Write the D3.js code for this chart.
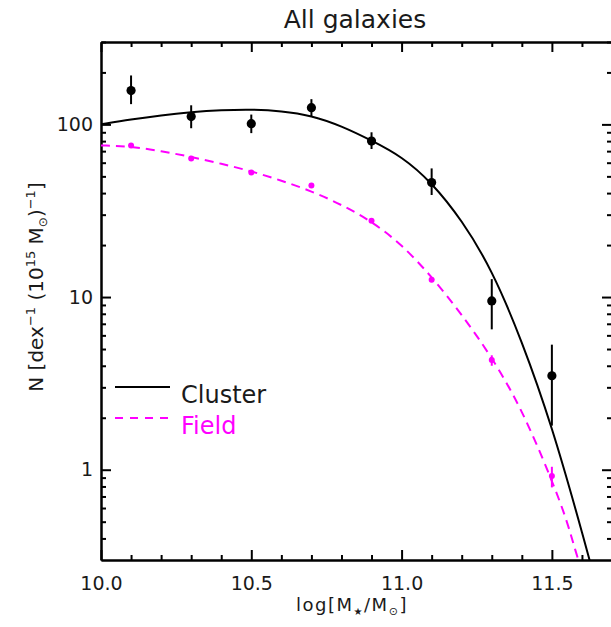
<!DOCTYPE html>
<html><head><meta charset="utf-8">
<script src="https://cdn.jsdelivr.net/npm/d3@7"></script>
<style>
body{margin:0;background:#fff}
text{font-family:"DejaVu Sans",sans-serif;}
</style>
</head><body><svg id="c" width="611" height="627"></svg>
<script>
// ---- data ----
const massBins   = [10.1, 10.3, 10.5, 10.7, 10.9, 11.1, 11.3, 11.5];
const clusterN   = [157, 111, 101, 125, 80, 46, 9.5, 3.5];
const clusterLo  = [131, 95, 89, 111, 72, 39, 6.5, 1.8];
const clusterHi  = [192, 129, 114, 140, 90, 55.6, 12.7, 5.3];
const fieldN     = [75.5, 63.5, 52.7, 44.3, 27.7, 12.6, 4.32, 0.92];
const fieldLo    = [75, 63, 52.3, 44, 27.2, 12.2, 4.0, 0.79];
const fieldHi    = [76, 64, 53.1, 44.7, 28.2, 13.0, 4.6, 1.04];

const clusterFitMass = [10.0,10.1,10.2,10.3,10.4,10.5,10.6,10.7,10.8,10.9,11.0,11.1,11.2,11.3,11.4,11.5,11.6,11.7];
const clusterFit     = [100,106.9,113,117.8,121,122.2,119.7,112.7,98,80.7,65.3,46.2,28.0,14.5,5.6,1.8,0.44,0.1];
const fieldFitMass   = [10.0,10.1,10.2,10.3,10.4,10.5,10.6,10.7,10.8,10.9,11.0,11.1,11.2,11.3,11.4,11.5,11.55,11.58,11.6];
const fieldFit       = [75.5,74.5,70,64.9,59.2,53.6,47.3,41.1,34.3,27.5,20.2,13.15,7.94,4.5,2.25,0.87,0.51,0.33,0.26];

const xMajor = [10.0, 10.5, 11.0, 11.5];
const xMinor = [10.1,10.2,10.3,10.4,10.6,10.7,10.8,10.9,11.1,11.2,11.3,11.4,11.6,11.7];
const yMajor = [1, 10, 100];
const yMinor = [0.4,0.5,0.6,0.7,0.8,0.9,2,3,4,5,6,7,8,9,20,30,40,50,60,70,80,90,200,300];

const svg = d3.select("#c");
const L = 101, R = 612, T = 42, B = 560;
const x = d3.scaleLinear().domain([10.0, 11.7]).range([L, R]);
const y = d3.scaleLog().domain([0.3, 300]).range([B, T]);
const ink = "#1a1a1a";

svg.append("clipPath").attr("id","clip").append("rect")
  .attr("x",L).attr("y",T).attr("width",R-L).attr("height",B-T);

const fmtX = d3.format(".1f");
function styleAxis(g){
  g.selectAll("path").attr("stroke","#000").attr("stroke-width",2);
  g.selectAll("line").attr("stroke","#000").attr("stroke-width",2);
  g.selectAll("text").attr("fill",ink).style("font-size","19px").style("font-family","DejaVu Sans, sans-serif");
}
// bottom
svg.append("g").attr("transform",`translate(0,${B})`)
  .call(d3.axisBottom(x).tickValues(xMajor).tickFormat(fmtX).tickSize(-10).tickSizeOuter(0).tickPadding(17)).call(styleAxis);
svg.append("g").attr("transform",`translate(0,${B})`)
  .call(d3.axisBottom(x).tickValues(xMinor).tickFormat("").tickSize(-5).tickSizeOuter(0)).call(styleAxis);
// top
svg.append("g").attr("transform",`translate(0,${T})`)
  .call(d3.axisTop(x).tickValues(xMajor).tickFormat("").tickSize(-10).tickSizeOuter(0)).call(styleAxis);
svg.append("g").attr("transform",`translate(0,${T})`)
  .call(d3.axisTop(x).tickValues(xMinor).tickFormat("").tickSize(-5).tickSizeOuter(0)).call(styleAxis);
// left
svg.append("g").attr("transform",`translate(${L},0)`)
  .call(d3.axisLeft(y).tickValues(yMajor).tickFormat(d3.format("d")).tickSize(-10).tickSizeOuter(0).tickPadding(8)).call(styleAxis);
svg.append("g").attr("transform",`translate(${L},0)`)
  .call(d3.axisLeft(y).tickValues(yMinor).tickFormat("").tickSize(-5).tickSizeOuter(0)).call(styleAxis);
// right
svg.append("g").attr("transform",`translate(${R},0)`)
  .call(d3.axisLeft(y).tickValues(yMajor).tickFormat("").tickSize(10).tickSizeOuter(0)).call(styleAxis);
svg.append("g").attr("transform",`translate(${R},0)`)
  .call(d3.axisLeft(y).tickValues(yMinor).tickFormat("").tickSize(5).tickSizeOuter(0)).call(styleAxis);

// fit curves
const line = d3.line().x(d=>x(d[0])).y(d=>y(d[1])).curve(d3.curveBasis);
const plot = svg.append("g").attr("clip-path","url(#clip)");
plot.append("path").datum(clusterFitMass.map((m,i)=>[m,clusterFit[i]]))
  .attr("d",line).attr("fill","none").attr("stroke","#000").attr("stroke-width",2);
plot.append("path").datum(fieldFitMass.map((m,i)=>[m,fieldFit[i]]))
  .attr("d",line).attr("fill","none").attr("stroke","#ff00ff").attr("stroke-width",2).attr("stroke-dasharray","9,6");

// points with error bars
massBins.forEach((m,i)=>{
  plot.append("line").attr("x1",x(m)).attr("x2",x(m)).attr("y1",y(clusterLo[i])).attr("y2",y(clusterHi[i]))
    .attr("stroke","#000").attr("stroke-width",2);
  plot.append("circle").attr("cx",x(m)).attr("cy",y(clusterN[i])).attr("r",4.6).attr("fill","#000");
  plot.append("line").attr("x1",x(m)).attr("x2",x(m)).attr("y1",y(fieldLo[i])).attr("y2",y(fieldHi[i]))
    .attr("stroke","#ff00ff").attr("stroke-width",2);
  plot.append("circle").attr("cx",x(m)).attr("cy",y(fieldN[i])).attr("r",3).attr("fill","#ff00ff");
});

// legend
svg.append("line").attr("x1",115).attr("x2",170).attr("y1",387).attr("y2",387).attr("stroke","#000").attr("stroke-width",2);
svg.append("text").attr("x",181).attr("y",403).style("font-size","24px").attr("fill",ink).text("Cluster");
svg.append("line").attr("x1",115).attr("x2",170).attr("y1",418).attr("y2",418).attr("stroke","#ff00ff").attr("stroke-width",2).attr("stroke-dasharray","8,7");
svg.append("text").attr("x",181).attr("y",434).style("font-size","24px").attr("fill","#ff00ff").text("Field");

// title
svg.append("text").attr("x",355).attr("y",28).attr("text-anchor","middle").style("font-size","25px").attr("fill",ink).text("All galaxies");

// x label
const xl = svg.append("text").attr("x",352).attr("y",611).attr("text-anchor","middle")
  .style("font-size","18px").style("letter-spacing","1.5px").attr("fill",ink);
xl.append("tspan").text("log[M");
xl.append("tspan").attr("dy",4).style("font-size","10px").text("★");
xl.append("tspan").attr("dy",-4).text("/M");
xl.append("tspan").attr("dy",4).style("font-size","11px").text("⊙");
xl.append("tspan").attr("dy",-4).text("]");

// y label
const yl = svg.append("text").attr("transform","translate(43,287) rotate(-90)").attr("text-anchor","middle").style("font-size","20px").attr("fill",ink);
yl.append("tspan").text("N [dex");
yl.append("tspan").attr("dy",-8).style("font-size","13px").text("−1");
yl.append("tspan").attr("dy",8).text(" (10");
yl.append("tspan").attr("dy",-8).style("font-size","13px").text("15");
yl.append("tspan").attr("dy",8).text(" M");
yl.append("tspan").attr("dy",4).style("font-size","12px").text("⊙");
yl.append("tspan").attr("dy",-4).text(")");
yl.append("tspan").attr("dy",-8).style("font-size","13px").text("−1");
yl.append("tspan").attr("dy",8).text("]");
</script>
</body></html>
